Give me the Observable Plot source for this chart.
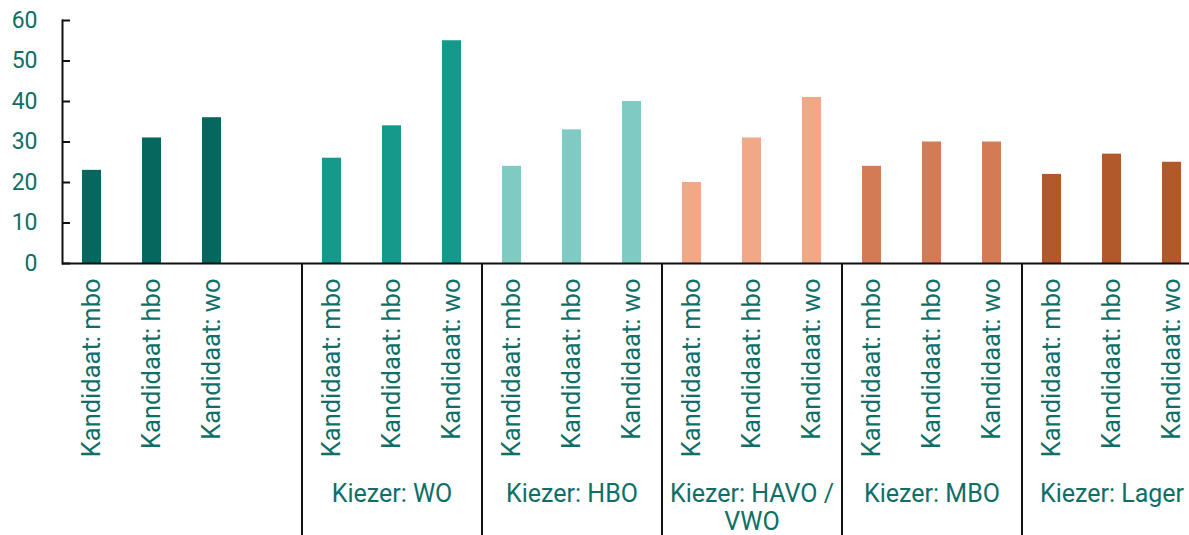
<!DOCTYPE html>
<html><head><meta charset="utf-8">
<script src="https://cdn.jsdelivr.net/npm/d3@7"></script>
<script src="https://cdn.jsdelivr.net/npm/@observablehq/plot@0.6"></script>
<style>
html,body{margin:0;padding:0;background:#fff;}
#chart svg{overflow:visible;}
</style>
</head><body><div id="chart"></div>
<script>
// ---- data ----
const groups = ["", "Kiezer: WO", "Kiezer: HBO", "Kiezer: HAVO /\nVWO", "Kiezer: MBO", "Kiezer: Lager"];
const candidates = ["Kandidaat: mbo", "Kandidaat: hbo", "Kandidaat: wo"];
const valuesTotal = [23, 31, 36];
const valuesWO    = [26, 34, 55];
const valuesHBO   = [24, 33, 40];
const valuesHAVO  = [20, 31, 41];
const valuesMBO   = [24, 30, 30];
const valuesLager = [22, 27, 25];
const groupColors = ["#05675e", "#14998a", "#7fcac3", "#f0a886", "#d27b55", "#b2592b"];
const yTicks = [0, 10, 20, 30, 40, 50, 60];

// ---- layout ----
const W = 1189, H = 535;
const mLeft = 62, mTop = 20, mBottom = 272;
const step = 60;
const textColor = "#0f6f67";
const font = "Roboto, 'Liberation Sans', sans-serif";

const groupValues = [valuesTotal, valuesWO, valuesHBO, valuesHAVO, valuesMBO, valuesLager];
const rows = [];
const domain = [];
groups.forEach((g, gi) => {
  candidates.forEach((c, ci) => {
    const slot = gi + "|" + ci;
    domain.push(slot);
    rows.push({slot, group: g, candidate: c, value: groupValues[gi][ci], color: groupColors[gi]});
  });
  if (gi === 0) domain.push("spacer");
});
const groupRows = groups.map((g, gi) => ({group: g, first: gi + "|0", mid: gi + "|1"})).filter((d, i) => i > 0);

const plotH = H - mTop - mBottom;
const yBottom = -(mBottom / plotH) * 60;

const chart = Plot.plot({
  width: W, height: H,
  marginLeft: mLeft, marginRight: 0, marginTop: mTop, marginBottom: mBottom,
  style: {fontFamily: font, background: "#fff", overflow: "visible"},
  x: {type: "band", domain, range: [mLeft, mLeft + step * domain.length], paddingInner: 0.68, paddingOuter: 0.34, axis: null},
  y: {domain: [0, 60], axis: null, label: null},
  color: {type: "identity"},
  marks: [
    Plot.barY(rows, {x: "slot", y: "value", fill: "color"}),
    Plot.ruleY(yTicks, {stroke: "#111", strokeWidth: 2, insetRight: (W - mLeft) - 8}),
    Plot.axisY(yTicks, {tickSize: 0, tickPadding: 25, fontSize: 23, label: null, color: textColor, fill: textColor}),
    Plot.ruleY([0], {stroke: "#111", strokeWidth: 2}),
    Plot.frame({anchor: "left", stroke: "#111", strokeWidth: 2}),
    Plot.text(rows, {x: "slot", y: 0, text: "candidate", rotate: -90, textAnchor: "end", dy: 15, fontSize: 25.5, fill: textColor}),
    Plot.text(groupRows, {x: "mid", y: 0, text: "group", lineAnchor: "top", dy: 219, fontSize: 25, lineHeight: 1.12, fill: textColor}),
    Plot.ruleX(groupRows, {x: "first", dx: -step / 2, y1: 0, y2: yBottom, stroke: "#111", strokeWidth: 2})
  ]
});
document.getElementById("chart").appendChild(chart);
</script>
</body></html>
